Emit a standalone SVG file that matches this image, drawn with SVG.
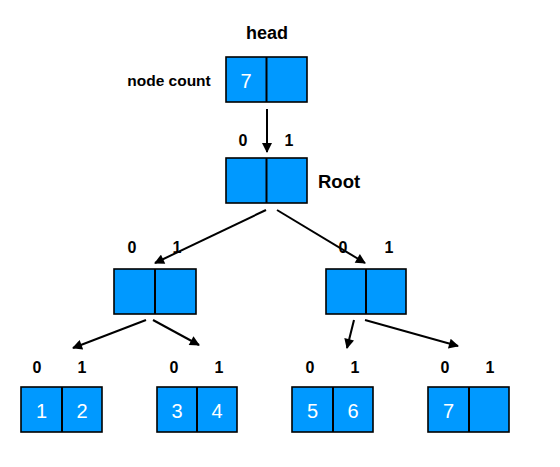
<svg xmlns="http://www.w3.org/2000/svg" width="560" height="467" viewBox="0 0 560 467">
<defs>
<style>
.cell{fill:#0099ff;stroke:#000;stroke-width:1.6}
.div{stroke:#000;stroke-width:2}
.lbl{font-family:"Liberation Sans",Arial,sans-serif;font-weight:bold;font-size:16px;fill:#000;text-anchor:middle}
.num{font-family:"Liberation Sans",Arial,sans-serif;font-size:20px;fill:#fff;text-anchor:middle}
.title{font-family:"Liberation Sans",Arial,sans-serif;font-weight:bold;fill:#000}
.edge{stroke:#000;stroke-width:2;fill:none;marker-end:url(#arr)}
</style>
<marker id="arr" viewBox="0 0 10 10" refX="9" refY="5" markerWidth="5.5" markerHeight="5" markerUnits="strokeWidth" orient="auto">
<path d="M0,0 L10,5 L0,10 Z" fill="#000"/>
</marker>
</defs>
<rect width="560" height="467" fill="#fff"/>
<text class="title" x="267" y="39" font-size="18" text-anchor="middle">head</text>
<text class="title" x="169" y="86" font-size="15.5" text-anchor="middle">node count</text>
<g id="head">
<rect class="cell" x="226" y="57" width="81" height="45"/>
<line class="div" x1="266.5" y1="57" x2="266.5" y2="102"/>
<text class="num" x="246" y="88">7</text>
</g>
<g id="root">
<text class="lbl" x="243" y="146">0</text>
<text class="lbl" x="289" y="146">1</text>
<rect class="cell" x="226" y="158" width="81" height="45"/>
<line class="div" x1="266.5" y1="158" x2="266.5" y2="203"/>
<text class="title" x="318" y="188" font-size="18.5">Root</text>
</g>
<g id="n2l">
<text class="lbl" x="132" y="253">0</text>
<text class="lbl" x="177" y="253">1</text>
<rect class="cell" x="114" y="269" width="82" height="45"/>
<line class="div" x1="155" y1="269" x2="155" y2="314"/>
</g>
<g id="n2r">
<text class="lbl" x="343" y="253">0</text>
<text class="lbl" x="389" y="253">1</text>
<rect class="cell" x="326" y="269" width="80" height="45"/>
<line class="div" x1="366" y1="269" x2="366" y2="314"/>
</g>
<g id="leaf1">
<text class="lbl" x="37" y="373">0</text>
<text class="lbl" x="82" y="373">1</text>
<rect class="cell" x="21" y="387" width="81" height="45"/>
<line class="div" x1="62" y1="387" x2="62" y2="432"/>
<text class="num" x="41.5" y="418">1</text>
<text class="num" x="82" y="418">2</text>
</g>
<g id="leaf2">
<text class="lbl" x="174" y="373">0</text>
<text class="lbl" x="219" y="373">1</text>
<rect class="cell" x="157" y="387" width="80" height="45"/>
<line class="div" x1="197" y1="387" x2="197" y2="432"/>
<text class="num" x="177" y="418">3</text>
<text class="num" x="217" y="418">4</text>
</g>
<g id="leaf3">
<text class="lbl" x="310" y="373">0</text>
<text class="lbl" x="355" y="373">1</text>
<rect class="cell" x="292" y="387" width="81" height="45"/>
<line class="div" x1="333" y1="387" x2="333" y2="432"/>
<text class="num" x="312.5" y="418">5</text>
<text class="num" x="353" y="418">6</text>
</g>
<g id="leaf4">
<text class="lbl" x="445" y="373">0</text>
<text class="lbl" x="490" y="373">1</text>
<rect class="cell" x="428" y="387" width="81" height="45"/>
<line class="div" x1="469" y1="387" x2="469" y2="432"/>
<text class="num" x="448.5" y="418">7</text>
</g>
<g id="connectors">
<line class="edge" x1="267" y1="109" x2="267" y2="152"/>
<line class="edge" x1="266" y1="210" x2="155" y2="263"/>
<line class="edge" x1="277" y1="210" x2="365" y2="263"/>
<line class="edge" x1="146" y1="320" x2="73" y2="348"/>
<line class="edge" x1="153" y1="320" x2="199" y2="345"/>
<line class="edge" x1="354" y1="320" x2="347" y2="348"/>
<line class="edge" x1="365" y1="320" x2="458" y2="346"/>
</g>
</svg>
